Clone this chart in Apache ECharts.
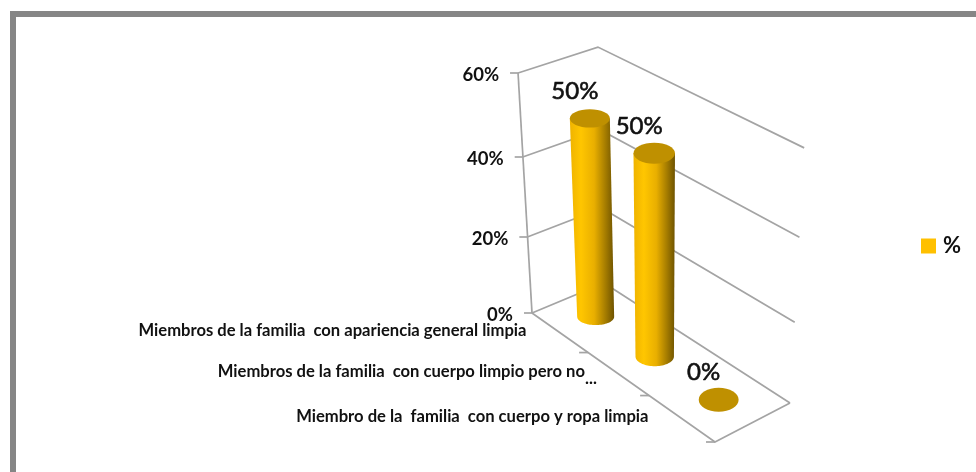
<!DOCTYPE html>
<html>
<head>
<meta charset="utf-8">
<style>html,body{margin:0;padding:0;background:#fff}#c{width:976px;height:472px}</style>
<script src="https://cdn.jsdelivr.net/npm/echarts@6/dist/echarts.min.js"></script>
</head>
<body>
<div id="c"></div>
<script>
const categories = [
  'Miembros de la familia  con apariencia general limpia',
  'Miembros de la familia  con cuerpo limpio pero no ...',
  'Miembro de la  familia  con cuerpo y ropa limpia'
];
const seriesName = '%';
const percentValues = [50, 50, 0];
const yTicks = [0, 20, 40, 60];

const FONT = 'Lato, "Open Sans", sans-serif';
const GRID_COLOR = '#a4a4a4';
const BAR_COLOR = '#FFC000';
const yMax = yTicks[yTicks.length - 1];

// Oblique 3D projection: category position d (0..3), wall depth t (0..1), value v
function project(api, d, t, v) {
  const o = api.coord([0, 0]);
  const band = api.size([1, 0])[0];
  const H = o[1] - api.coord([0, yMax])[1];
  const frac = (o[1] - api.coord([0, v])[1]) / H;
  const rise = frac * (0.925 + 0.075 * frac);
  const dw = d * (0.88 + 0.04 * d);
  const q = dw / categories.length;
  const x0 = o[0] - band / 2;
  const sx = x0 + dw * band + t * (72 + 3 * q);
  const sy = o[1] + dw * 43 - t * (30 + 9 * q);
  const s = 1 - 0.017 * t + 0.08 * q;
  return [sx + (sx - (x0 + 128)) * 0.109 * frac, sy - H * rise * s];
}
function line(points, width) {
  return { type: 'polyline', silent: true, shape: { points: points },
    style: { stroke: GRID_COLOR, lineWidth: width || 1.7, fill: null } };
}
function text(str, x, y, align, size, weight, outline) {
  const style = { text: str, x: x, y: y, align: align, verticalAlign: 'middle',
    fontFamily: FONT, fontSize: size, fontWeight: weight, fill: '#111' };
  if (outline) { style.stroke = '#111'; style.lineWidth = outline; }
  return { type: 'text', silent: true, style: style };
}

function renderFrame(params, api) {
  const v = api.value(1);
  const n = categories.length;
  const L = project(api, 0, 0, v), C = project(api, 0, 1, v), R = project(api, n, 1, v);
  const kids = [
    line([L, C, R]),
    line([[L[0] - 8, L[1]], L]),
    text(v + '%', L[0] - 19, L[1] + 2, 'right', 18.5, 'bold')
  ];
  if (v === 0) {
    const B = project(api, n, 0, 0);
    kids.push(line([L, B, R]));
    const A = project(api, 0, 0, yMax);
    kids.push(line([A, L]));
    for (let i = 1; i <= n; i++) {
      const p = project(api, i, 0, 0);
      kids.push(line([[p[0] - 9, p[1]], p]));
    }
  }
  return { type: 'group', children: kids };
}

function ellipsePoints(c, rx, ry, from, to) {
  const pts = [];
  for (let i = 0; i <= 40; i++) {
    const a = from + (to - from) * i / 40;
    pts.push([c[0] + rx * Math.cos(a), c[1] + ry * Math.sin(a)]);
  }
  return pts;
}

function renderBar(params, api) {
  const i = api.value(0), v = api.value(1);
  const d = i + 0.5;
  const band = api.size([1, 0])[0];
  const b = project(api, d, 0.5, 0), t = project(api, d, 0.5, v);
  const rb = band * (0.303 + 0.012 * (d - 0.5));
  const rt = rb + band * 0.025 * v / 50;
  const ratio = 0.45 + 0.024 * d * d;
  const kids = [];
  if (v > 0) {
    kids.push({ type: 'polygon', silent: true,
      shape: { points: ellipsePoints(b, rb, rb * ratio, 0, Math.PI)
        .concat([[t[0] - rt, t[1]], [t[0] + rt, t[1]]]) },
      style: { fill: new echarts.graphic.LinearGradient(0, 0, 1, 0, [
        { offset: 0, color: '#EFB300' }, { offset: 0.25, color: '#FFC600' },
        { offset: 0.55, color: '#E9AF00' }, { offset: 0.8, color: '#A67D00' },
        { offset: 1, color: '#6E5300' }]) } });
  }
  kids.push({ type: 'ellipse', silent: true,
    shape: { cx: t[0], cy: t[1], rx: rt, ry: rt * ratio },
    style: { fill: '#BF9000' } });
  kids.push(text(v + '%', t[0] - 15, t[1] - 27, 'center', 24, 'normal', 0.6));
  return { type: 'group', children: kids };
}

function renderCategory(params, api) {
  const i = api.value(0);
  const p = project(api, i + 0.5, 0, 0);
  const name = categories[i];
  const cut = name.endsWith(' ...');
  const kids = [text(cut ? name.slice(0, -4) : name, p[0] - 33, p[1] - 2, 'right', 16.6, 'bold')];
  if (cut) kids.push(text('...', p[0] - 33, p[1] + 5, 'left', 16.6, 'bold'));
  return { type: 'group', children: kids };
}

const chart = echarts.init(document.getElementById('c'), null, { renderer: 'canvas' });
chart.setOption({
  animation: false,
  backgroundColor: '#ffffff',
  graphic: [{ type: 'rect', silent: true, z: -1,
    shape: { x: 13, y: 14, width: 1010, height: 510 },
    style: { fill: null, stroke: '#868686', lineWidth: 6 } }],
  legend: { data: [seriesName], left: 921, top: 235, icon: 'rect', itemWidth: 15, itemHeight: 15,
    itemGap: 0, selectedMode: false, padding: 0,
    textStyle: { fontFamily: FONT, fontWeight: 'bold', fontSize: 22, color: '#111', padding: [0, 0, 0, 2] } },
  tooltip: { show: false },
  grid: { left: 532, top: 73, width: 183, height: 240 },
  xAxis: { type: 'category', data: categories, show: false },
  yAxis: { type: 'value', min: 0, max: yMax, interval: 20, show: false },
  series: [
    { type: 'custom', name: 'frame', renderItem: renderFrame, encode: { x: 0, y: 1 },
      data: yTicks.map(v => [0, v]), z: 1 },
    { type: 'custom', name: 'labels', renderItem: renderCategory, encode: { x: 0, y: 1 },
      data: categories.map((c, i) => [i, 0]), z: 2 },
    { type: 'custom', name: seriesName, renderItem: renderBar, encode: { x: 0, y: 1 },
      itemStyle: { color: BAR_COLOR },
      data: percentValues.map((v, i) => [i, v]), z: 3 }
  ]
});
</script>
</body>
</html>
